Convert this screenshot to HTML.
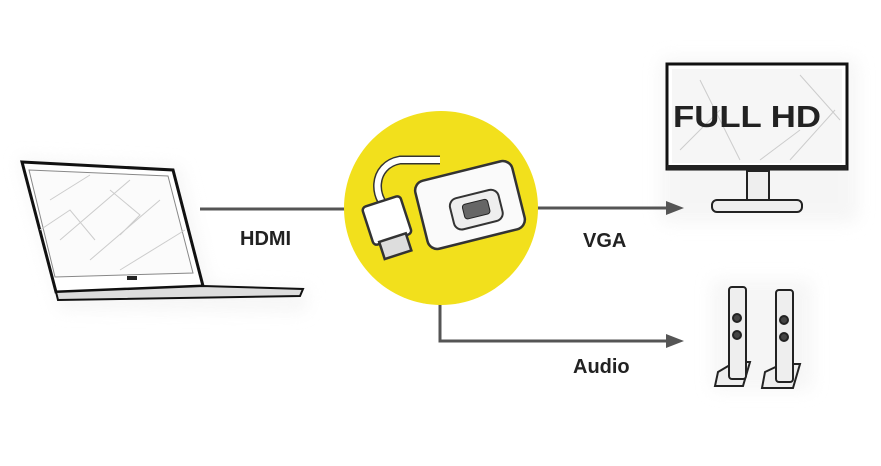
<!DOCTYPE html>
<html><head><style>
html,body{margin:0;padding:0;background:#fff;}
svg{display:block;}
text{font-family:"Liberation Sans",sans-serif;font-weight:bold;fill:#222;}
</style></head><body>
<svg width="881" height="466" viewBox="0 0 881 466" xmlns="http://www.w3.org/2000/svg">
<defs>
<filter id="sh" x="-20%" y="-20%" width="140%" height="140%"><feGaussianBlur stdDeviation="8"/></filter>
<marker id="ar" markerWidth="18" markerHeight="14" refX="2" refY="7" orient="auto" markerUnits="userSpaceOnUse"><path d="M0,0 L18,7 L0,14z" fill="#555"/></marker>
</defs>
<g fill="#f0f0f0" filter="url(#sh)" opacity="0.6">
<path d="M18,158 L180,166 L210,285 L310,290 L305,312 L60,310 Z"/>
<rect x="660" y="58" width="198" height="165" rx="8"/>
<rect x="712" y="280" width="100" height="110"/>
</g>
<line x1="200" y1="209" x2="346" y2="209" stroke="#555" stroke-width="3"/>
<line x1="536" y1="208" x2="668" y2="208" stroke="#555" stroke-width="3" marker-end="url(#ar)"/>
<polyline points="440,304 440,341 668,341" fill="none" stroke="#555" stroke-width="3" marker-end="url(#ar)"/>
<circle cx="441" cy="208" r="97" fill="#f2e01c"/>
<path d="M395,215 C370,200 372,165 400,160 L440,160" fill="none" stroke="#333" stroke-width="9"/>
<path d="M395,215 C370,200 372,165 400,160 L440,160" fill="none" stroke="#fff" stroke-width="6"/>
<g transform="rotate(-14 470 205)">
<rect x="420" y="170" width="100" height="70" rx="10" fill="#fafafa" stroke="#333" stroke-width="2.5"/>
<rect x="450" y="195" width="50" height="32" rx="8" fill="#eee" stroke="#333" stroke-width="2"/>
<rect x="462" y="203" width="26" height="15" rx="3" fill="#666" stroke="#222"/>
</g>
<g transform="rotate(-18 390 230)">
<rect x="370" y="200" width="40" height="40" rx="4" fill="#fff" stroke="#333" stroke-width="2.5"/>
<rect x="376" y="238" width="28" height="18" fill="#ddd" stroke="#333" stroke-width="2.5"/>
</g>
<path d="M22,162 L173,170 L203,286 L56,292 Z" fill="#fff" stroke="#111" stroke-width="3"/>
<path d="M29,170 L168,176 L193,273 L55,277 Z" fill="#fbfbfb" stroke="#888" stroke-width="1"/>
<g stroke="#ccc" fill="none" stroke-width="1">
<path d="M50,200 L90,175 M60,240 L130,180 M90,260 L160,200 M120,270 L185,230 M40,230 L70,210 L95,240 M110,190 L140,215 L120,235"/>
</g>
<path d="M56,292 L203,286 L303,289 L300,296 L58,300 Z" fill="#ddd" stroke="#111" stroke-width="2"/>
<rect x="127" y="276" width="10" height="4" fill="#222"/>
<text x="240" y="245" font-size="20">HDMI</text>
<text x="583" y="247" font-size="20">VGA</text>
<text x="573" y="373" font-size="20">Audio</text>
<rect x="667" y="64" width="180" height="105" fill="#fff" stroke="#111" stroke-width="3"/>
<rect x="672" y="69" width="170" height="94" fill="#f6f6f6"/>
<g stroke="#ccc" fill="none" stroke-width="1">
<path d="M680,150 L720,110 M700,80 L740,160 M790,160 L835,110 M800,75 L840,120 M760,160 L800,130"/>
</g>
<rect x="667" y="165" width="180" height="5" fill="#222"/>
<text x="747" y="127" font-size="31" text-anchor="middle" fill="#111" textLength="148" lengthAdjust="spacingAndGlyphs">FULL HD</text>
<rect x="747" y="171" width="22" height="31" fill="#eee" stroke="#222" stroke-width="2"/>
<rect x="712" y="200" width="90" height="12" rx="5" fill="#eee" stroke="#222" stroke-width="2"/>
<g stroke="#222" stroke-width="2" fill="#eee">
<path d="M718,372 L735,362 L750,362 L743,386 L715,386 Z"/>
<rect x="729" y="287" width="17" height="92" rx="3"/>
<circle cx="737" cy="318" r="4" fill="#444"/><circle cx="737" cy="335" r="4" fill="#444"/>
<path d="M765,372 L782,364 L800,364 L793,388 L762,388 Z"/>
<rect x="776" y="290" width="17" height="92" rx="3"/>
<circle cx="784" cy="320" r="4" fill="#444"/><circle cx="784" cy="337" r="4" fill="#444"/>
</g>
</svg>
</body></html>
